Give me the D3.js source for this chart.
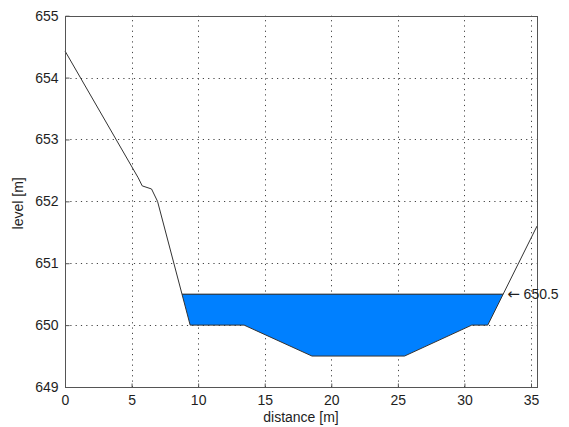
<!DOCTYPE html>
<html>
<head>
<meta charset="utf-8">
<script src="https://cdn.jsdelivr.net/npm/d3@7"></script>
<style>
  body { margin: 0; background: #fff; }
  text { font-family: "Liberation Sans", Arial, sans-serif; fill: #1e1e1e; }
</style>
</head>
<body>
<svg width="569" height="427"></svg>
<script>
// terrain profile: distance [m] / level [m]
const distance = [0, 5.5, 5.8, 6.5, 6.95, 9.4, 13.45, 18.55, 25.5, 30.55, 31.75, 35.45];
const level    = [654.43, 652.38, 652.25, 652.2, 652.0, 650.0, 650.0, 649.5, 649.5, 650.0, 650.0, 651.6];
const waterLevel = 650.5;
const xTicks = [0, 5, 10, 15, 20, 25, 30, 35];
const yTicks = [649, 650, 651, 652, 653, 654, 655];

const svg = d3.select('svg');
const pLeft = 65, pRight = 537, pTop = 15.7, pBottom = 387;

const x = d3.scaleLinear().domain([0, 35.45]).range([pLeft, pRight]);
const y = d3.scaleLinear().domain([649, 655]).range([pBottom, pTop]);

const pts = distance.map((d, i) => [d, level[i]]);

// grid
const grid = svg.append('g').attr('stroke', '#444').attr('stroke-width', 1)
  .attr('stroke-dasharray', '1.2,4.1');
grid.selectAll('.gx').data(xTicks.filter(d => d > 0)).enter().append('line')
  .attr('x1', d => Math.round(x(d)) + 0.5).attr('x2', d => Math.round(x(d)) + 0.5)
  .attr('y1', pBottom).attr('y2', pTop);
grid.selectAll('.gy').data(yTicks.filter(d => d > 649 && d < 655)).enter().append('line')
  .attr('y1', d => Math.round(y(d)) + 0.5).attr('y2', d => Math.round(y(d)) + 0.5)
  .attr('x1', pLeft).attr('x2', pRight);

// water polygon: crossing points of the terrain with the water level
function crossings() {
  const out = [];
  for (let i = 0; i < pts.length - 1; i++) {
    const [x0, y0] = pts[i], [x1, y1] = pts[i + 1];
    if ((y0 - waterLevel) * (y1 - waterLevel) < 0) {
      out.push(x0 + (waterLevel - y0) / (y1 - y0) * (x1 - x0));
    }
  }
  return out;
}
const [xa, xb] = crossings();
const wet = [[xa, waterLevel]].concat(pts.filter(p => p[0] > xa && p[0] < xb)).concat([[xb, waterLevel]]);

svg.append('path')
  .datum(wet)
  .attr('d', d3.line().x(d => x(d[0])).y(d => y(d[1])).curve(d3.curveLinearClosed))
  .attr('fill', '#0080ff');

svg.append('line')
  .attr('x1', x(xa)).attr('x2', x(xb))
  .attr('y1', y(waterLevel)).attr('y2', y(waterLevel))
  .attr('stroke', '#1a1a1a').attr('stroke-width', 1);

// terrain
svg.append('path')
  .datum(pts)
  .attr('d', d3.line().x(d => x(d[0])).y(d => y(d[1])))
  .attr('fill', 'none').attr('stroke', '#333').attr('stroke-width', 1);

// box
svg.append('rect')
  .attr('x', pLeft + 0.5).attr('y', Math.round(pTop) + 0.5)
  .attr('width', pRight - pLeft).attr('height', pBottom - Math.round(pTop))
  .attr('fill', 'none').attr('stroke', '#555').attr('stroke-width', 1);

// axes
const xAxis = d3.axisBottom(x).tickValues(xTicks).tickFormat(d3.format('d')).tickSize(-4).tickPadding(8);
const gx = svg.append('g').attr('transform', `translate(0,${pBottom + 0.5})`).call(xAxis);
gx.select('.domain').remove();
gx.selectAll('.tick line').attr('stroke', '#555');
gx.selectAll('.tick text').attr('font-size', 14).attr('font-family', null);

const yAxis = d3.axisLeft(y).tickValues(yTicks).tickFormat(d3.format('d')).tickSize(-4).tickPadding(7);
const gy = svg.append('g').attr('transform', `translate(${pLeft + 0.5},0)`).call(yAxis);
gy.select('.domain').remove();
gy.selectAll('.tick line').attr('stroke', '#555');
gy.selectAll('.tick text').attr('font-size', 14).attr('font-family', null);
svg.selectAll('.tick text').style('fill', '#1e1e1e');

// labels
svg.append('text').attr('x', (pLeft + pRight) / 2).attr('y', 422)
  .attr('text-anchor', 'middle').attr('font-size', 14).text('distance [m]');
svg.append('text').attr('transform', `translate(23,${(pTop + pBottom) / 2 + 2}) rotate(-90)`)
  .attr('text-anchor', 'middle').attr('font-size', 14).text('level [m]');

const note = svg.append('text').attr('x', x(xb) + 4).attr('y', y(waterLevel) + 5).attr('font-size', 14);
note.append('tspan').attr('font-family', 'DejaVu Sans').attr('font-size', 15).text('\u2190');
note.append('tspan').text(' ' + waterLevel);
</script>
</body>
</html>
